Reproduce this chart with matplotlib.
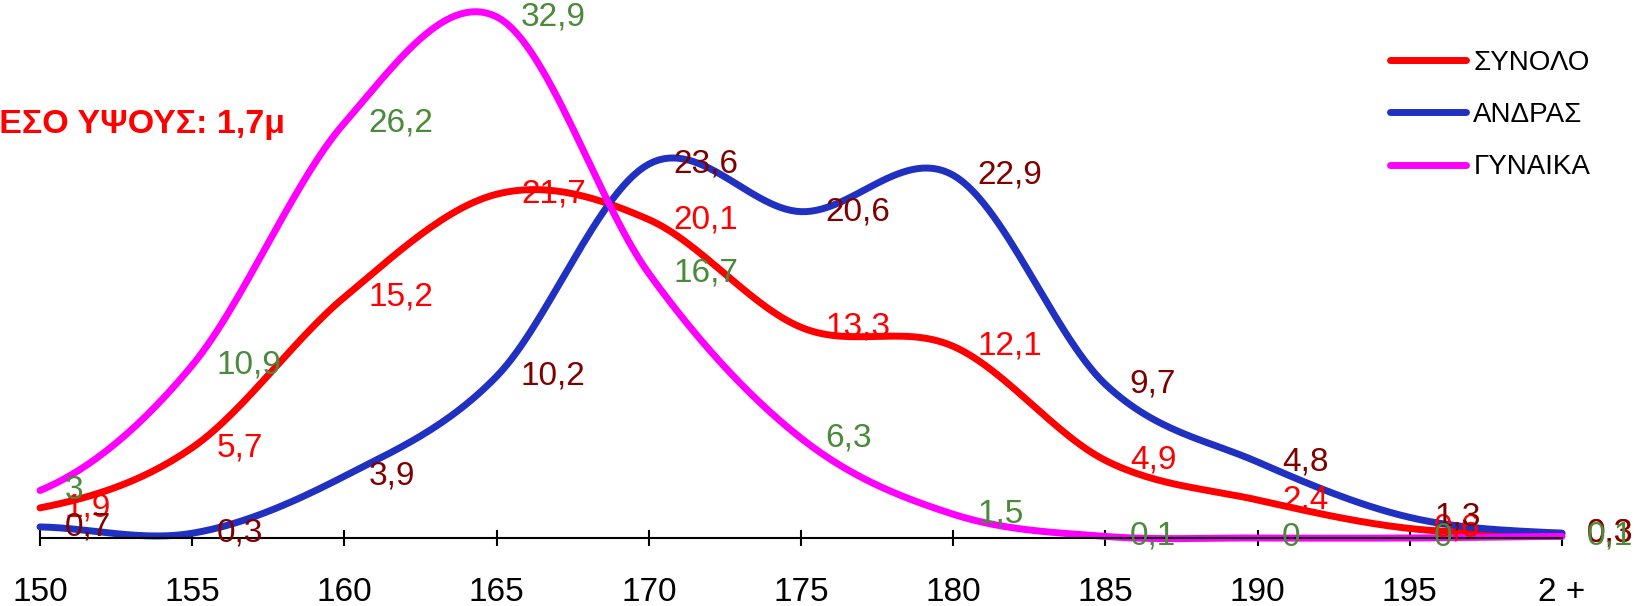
import numpy as np
import matplotlib
matplotlib.use("Agg")
from matplotlib import pyplot as plt

categories = ["150", "155", "160", "165", "170", "175", "180", "185", "190", "195", "2 +"]
synolo = [1.9, 5.7, 15.2, 21.7, 20.1, 13.3, 12.1, 4.9, 2.4, 0.6, 0.3]
andras = [0.7, 0.3, 3.9, 10.2, 23.6, 20.6, 22.9, 9.7, 4.8, 1.3, 0.3]
gynaika = [3, 10.9, 26.2, 32.9, 16.7, 6.3, 1.5, 0.1, 0, 0, 0.1]

series_names = ["ΣΥΝΟΛΟ", "ΑΝΔΡΑΣ", "ΓΥΝΑΙΚΑ"]
line_colors = ["#ff0000", "#2030c0", "#ff00ff"]
label_colors = ["#ff0000", "#800000", "#4a8a3a"]

plt.rcParams["font.family"] = ["Liberation Sans", "DejaVu Sans"]


def smooth(y, n=30):
    # catmull-rom kampyli san to "smoothed line" tou excel
    y = np.asarray(y, dtype=float)
    p = np.concatenate([[y[0]], y, [y[-1]]])
    xs, ys = [], []
    t = np.linspace(0, 1, n, endpoint=False)
    for i in range(len(y) - 1):
        p0, p1, p2, p3 = p[i], p[i + 1], p[i + 2], p[i + 3]
        seg = 0.5 * (2 * p1 + (-p0 + p2) * t + (2 * p0 - 5 * p1 + 4 * p2 - p3) * t ** 2
                     + (-p0 + 3 * p1 - 3 * p2 + p3) * t ** 3)
        xs.append(i + t)
        ys.append(seg)
    xs.append([len(y) - 1])
    ys.append([y[-1]])
    return np.concatenate(xs), np.concatenate(ys)


fig = plt.figure(figsize=(16.36, 6.06), dpi=100)
ax = fig.add_axes([0, 68 / 606, 1, 538 / 606])

x = np.arange(len(categories))
for vals, name, lc in zip([synolo, andras, gynaika], series_names, line_colors):
    sx, sy = smooth(vals)
    ax.plot(sx, sy, color=lc, lw=5, label=name, clip_on=False, solid_capstyle="round")

for vals, tc in zip([synolo, andras, gynaika], label_colors):
    for i, v in enumerate(vals):
        txt = ("%g" % v).replace(".", ",")
        ax.text(i + 0.16, v, txt, color=tc, fontsize=24, ha="left", va="center")

ax.set_xlim(-40 / 152.2, 10 + 74 / 152.2)
ax.set_ylim(0, 33.96)
ax.set_xticks(x)
ax.set_xticklabels(categories, fontsize=24)
ax.set_yticks([])
ax.tick_params(axis="x", direction="inout", length=12, width=1.5, pad=22)
for s in ["left", "top", "right"]:
    ax.spines[s].set_visible(False)
ax.spines["bottom"].set_bounds(0, 10)
ax.spines["bottom"].set_linewidth(1.5)

ax.legend(loc="upper left", bbox_to_anchor=(1390 / 1636, 1 - 50 / 606), bbox_transform=fig.transFigure,
          frameon=False, fontsize=20, handlelength=2.75, handletextpad=0.25, labelspacing=0.94,
          borderpad=0, borderaxespad=0)

fig.text(285 / 1636, 1 - 124 / 606, "ΜΕΣΟ ΥΨΟΥΣ: 1,7μ", color="#ff0000", fontsize=24.5,
         fontweight="bold", ha="right", va="center")

plt.savefig("out.png")
